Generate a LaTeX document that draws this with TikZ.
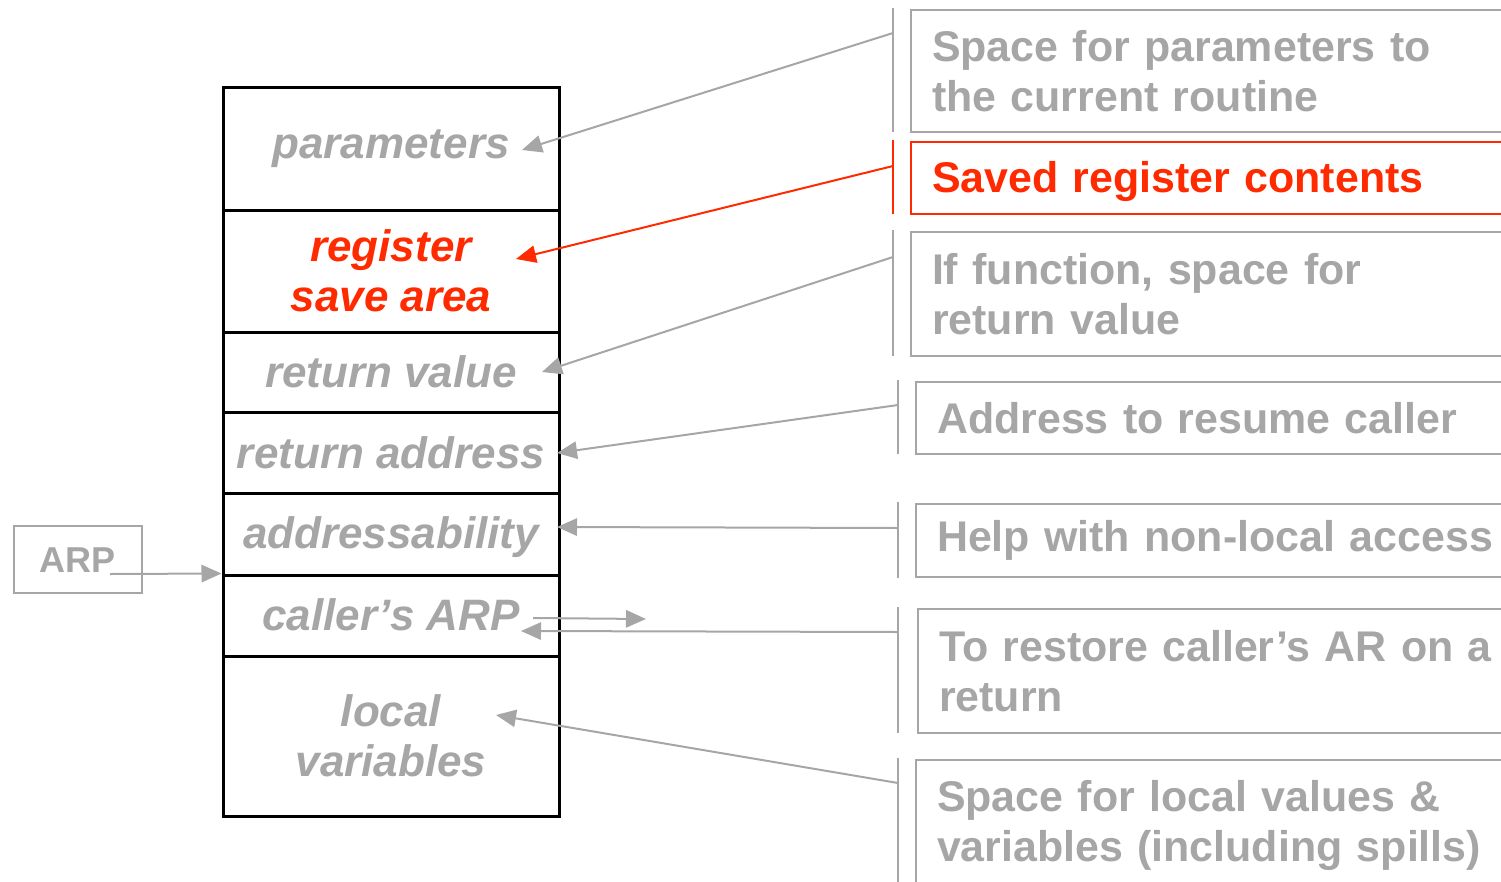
\documentclass[tikz,border=0pt]{standalone}
\usepackage{fontspec}
\setmainfont{Liberation Sans}
\usetikzlibrary{arrows.meta,calc}
\definecolor{gr}{HTML}{A6A6A6}
\definecolor{rd}{HTML}{FF2A00}
\begin{document}
\begin{tikzpicture}[x=0.75pt,y=-0.75pt,
  cell/.style={draw=black,line width=2.25pt,minimum width=252pt,minimum height=#1,inner sep=0pt,
    align=center,font=\fontsize{33}{37.5}\selectfont\bfseries\itshape,text=gr},
  rbox/.style={draw=gr,line width=1.5pt,anchor=north west,minimum height=#1,inner xsep=15.75pt,inner ysep=0pt,
    text width=450pt,align=left,font=\fontsize{32.2}{37.5}\selectfont\bfseries,text=gr},
  brk/.style={draw=gr,line width=1.5pt},
  conn/.style={draw=gr,line width=1.5pt,-{Triangle[length=15pt,width=13pt]}},
  low/.style={text height=29pt,text depth=7pt},
]
\clip (0,0) rectangle (1501,881);
% stack
\node[cell=92.25pt] (params) at (391,148.5) {parameters};
\node[cell=91.5pt,text=rd] (reg) at (391,271) {register\\save area};
\node[cell=60pt] (retval) at (391,372) {return value};
\node[cell=60.75pt] (retaddr) at (391,452.5) {return address};
\node[cell=61.5pt,low] (addr) at (391,534) {addressability};
\node[cell=60.75pt,low] (carp) at (391,615.5) {caller’s ARP};
\node[cell=120pt] (local) at (391,736) {local\\variables};
% ARP box
\node[draw=gr,line width=1.5pt,minimum width=96pt,minimum height=50.25pt,inner sep=0pt,
  font=\fontsize{27}{30}\selectfont\bfseries,text=gr,text height=23pt,text depth=4pt] (arp) at (78,559.5) {ARP};
% right description boxes
\node[rbox=91.5pt] (d1) at (910,9) {Space for parameters to\\the current routine};
\node[rbox=54pt,draw=rd,text=rd,text height=28pt,text depth=7pt] (d2) at (910,141) {Saved register contents};
\node[rbox=93pt] (d3) at (910,231) {If function, space for\\return value};
\node[rbox=54pt] (d4) at (915,381) {Address to resume caller};
\node[rbox=54.75pt] (d5) at (915,503) {Help with non-local access};
\node[rbox=93pt] (d6) at (917,608) {To restore caller’s AR on a\\return};
\node[rbox=97.5pt] (d7) at (915,759) {Space for local values \&\\variables (including spills)};
% brackets
\draw[brk] (893,8) -- (893,132);
\draw[brk,draw=rd] (893,140) -- (893,214);
\draw[brk] (893,230) -- (893,356);
\draw[brk] (898,380) -- (898,454);
\draw[brk] (898,502) -- (898,578);
\draw[brk] (898,607) -- (898,733);
\draw[brk] (898,758) -- (898,890);
% connector endpoints
\coordinate (s1) at (893,33);
\coordinate (s2) at (893,166);
\coordinate (s3) at (893,257);
\coordinate (s4) at (898,405);
\coordinate (s5) at (898,528);
\coordinate (s6) at (898,632);
\coordinate (s7) at (898,783);
\coordinate (t1) at (522,150);
\coordinate (t2) at (516,259);
\coordinate (t3) at (542,372);
\coordinate (t4) at (557,453);
\coordinate (t5) at (557,527);
\coordinate (t6) at (521,631);
\coordinate (t7) at (496,715);
\coordinate (arpS) at (110,574);
\coordinate (carpS) at (533,618);
\coordinate (carpT) at (646,619);
\draw[conn] (s1) -- (t1);
\draw[conn,draw=rd,fill=rd] (s2) -- (t2);
\draw[conn] (s3) -- (t3);
\draw[conn] (s4) -- (t4);
\draw[conn] (s5) -- (t5);
\draw[conn] (s6) -- (t6);
\draw[conn] (s7) -- (t7);
\draw[conn] (arpS) -- (carp.north west);
\draw[conn] (carpS) -- (carpT);
\end{tikzpicture}
\end{document}
